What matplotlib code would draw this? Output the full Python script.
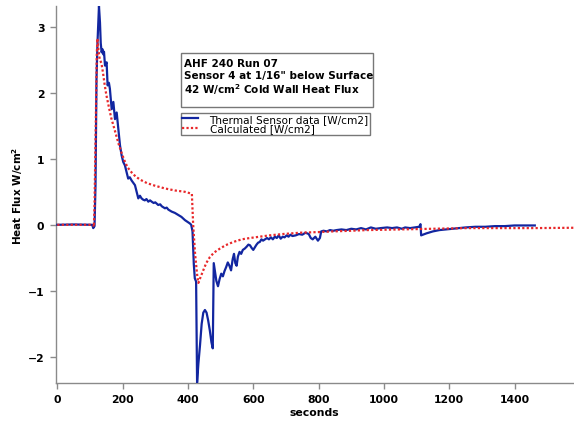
import matplotlib
matplotlib.use("Agg")
import matplotlib.pyplot as plt
from matplotlib.patches import Rectangle

# ---- data ----
sensor_t = [0, 50, 100, 107, 110, 114, 117, 120, 123, 126, 127.6, 130.7, 133, 135.8, 138, 140.9,
            143, 146, 151, 154, 158, 161, 166.5, 171.6, 176.6, 181.8, 186.8, 192, 197, 202,
            207, 212, 217, 222, 227.6, 232, 237.8, 243, 248, 253, 258, 263, 268, 273, 278.6,
            284, 289, 295, 300, 309, 315, 320, 329.6, 335, 340, 350, 360, 370, 380, 391,
            400, 406, 410, 414, 418, 421, 425, 428, 432, 437, 442, 447, 452, 457, 462,
            467, 472, 476, 479, 483, 487, 492, 497, 502, 507, 512, 517, 522, 527, 532,
            537, 541, 545, 549, 553, 558, 563, 568, 574, 580, 585, 590, 595, 600, 605,
            610, 615, 620, 625, 630, 636, 642, 648, 654, 660, 666, 672, 678, 684, 690,
            696, 702, 708, 714, 720, 730, 740, 750, 760, 770, 776, 782, 790, 798, 804,
            808, 815, 825, 835, 845, 855, 870, 885, 900, 915, 930, 945, 960, 975, 990,
            1010, 1025, 1040, 1055, 1065, 1080, 1095, 1108, 1112, 1114, 1130, 1150, 1170,
            1190, 1210, 1230, 1250, 1280, 1310, 1340, 1370, 1400, 1440, 1462]
sensor_q = [0.0, 0.005, 0.0, 0.0, -0.05, -0.02, 0.6, 2.2, 2.75, 3.1, 3.31, 3.06, 2.75, 2.61, 2.66, 2.58,
            2.62, 2.41, 2.46, 2.11, 2.15, 2.06, 1.75, 1.86, 1.6, 1.7, 1.45, 1.2, 1.05, 0.95,
            0.9, 0.8, 0.7, 0.72, 0.67, 0.64, 0.6, 0.5, 0.4, 0.44, 0.4, 0.38, 0.37, 0.39, 0.35,
            0.37, 0.35, 0.33, 0.34, 0.3, 0.31, 0.28, 0.25, 0.26, 0.23, 0.2, 0.18, 0.15, 0.12, 0.07,
            0.04, 0.02, 0.0, -0.1, -0.6, -0.81, -0.86, -2.39, -2.1, -1.82, -1.5, -1.33, -1.29, -1.33, -1.45,
            -1.6, -1.78, -1.87, -0.58, -0.72, -0.85, -0.93, -0.82, -0.74, -0.78, -0.7, -0.64, -0.57, -0.62, -0.69,
            -0.52, -0.44, -0.58, -0.62, -0.48, -0.41, -0.44, -0.38, -0.36, -0.33, -0.3, -0.31, -0.35, -0.38, -0.34,
            -0.3, -0.27, -0.26, -0.22, -0.24, -0.22, -0.2, -0.22, -0.19, -0.22, -0.18, -0.2, -0.16, -0.21, -0.18,
            -0.19, -0.16, -0.18, -0.15, -0.17, -0.16, -0.14, -0.15, -0.12, -0.14, -0.2, -0.22, -0.18, -0.24, -0.2,
            -0.1, -0.09, -0.1, -0.08, -0.09, -0.08, -0.07, -0.08, -0.06, -0.07, -0.05, -0.07, -0.04, -0.06, -0.05,
            -0.04, -0.05, -0.04, -0.06, -0.04, -0.05, -0.04, -0.03, 0.01, -0.16, -0.13, -0.1, -0.08,
            -0.07, -0.06, -0.05, -0.04, -0.03, -0.03, -0.02, -0.02, -0.01, -0.01, -0.01]

calc_t = [0, 110, 112, 114, 118, 121, 123, 126, 130, 135, 140, 145, 150, 158, 165, 172, 180, 188,
          196, 205, 215, 228, 240, 255, 275, 300, 330, 360, 390, 412, 416, 422, 428, 432, 438,
          446, 456, 467, 480, 498, 515, 529, 545, 565, 590, 620, 650, 690, 743, 800, 844, 900,
          948, 1000, 1049, 1150, 1254, 1350, 1456, 1580]
calc_q = [0.0, 0.0, -0.03, 0.3, 1.6, 2.6, 2.82, 2.65, 2.5, 2.45, 2.3, 2.12, 1.97, 1.78, 1.62, 1.5,
          1.36, 1.22, 1.1, 0.98, 0.87, 0.79, 0.73, 0.68, 0.63, 0.59, 0.55, 0.52, 0.5, 0.47, 0.0,
          -0.45, -0.75, -0.88, -0.8, -0.7, -0.58, -0.49, -0.42, -0.36, -0.31, -0.28, -0.25, -0.22,
          -0.2, -0.18, -0.16, -0.14, -0.12, -0.11, -0.1, -0.09, -0.08, -0.075, -0.07, -0.06,
          -0.05, -0.05, -0.05, -0.045]

x_ticks = [0, 200, 400, 600, 800, 1000, 1200, 1400]
y_ticks = [-2, -1, 0, 1, 2, 3]
series_labels = ["Thermal Sensor data [W/cm2]", "Calculated [W/cm2]"]
info_lines = ["AHF 240 Run 07", "Sensor 4 at 1/16\" below Surface",
              r"42 W/cm$^\mathbf{2}$ Cold Wall Heat Flux"]

W, H = 574, 427
fig = plt.figure(figsize=(W / 100, H / 100), dpi=100)
ax = fig.add_axes([55.5 / W, 1 - 384 / H, 1 - 55.5 / W, (384 - 6.5) / H])

blue = "#1226a0"
red = "#e8282a"
ax.plot(sensor_t, sensor_q, color=blue, lw=1.6, label=series_labels[0], zorder=3)
ax.plot(calc_t, calc_q, color=red, lw=1.6, ls=(0, (1, 1)), label=series_labels[1], zorder=4)

ax.set_xlim(-5.5, 1582)
ax.set_ylim(-2.395, 3.32)
ax.set_xticks(x_ticks)
ax.set_yticks(y_ticks)

for s in ["top", "right"]:
    ax.spines[s].set_visible(False)
for s in ["left", "bottom"]:
    ax.spines[s].set_color("#8a8a8a")
    ax.spines[s].set_linewidth(1.0)
ax.tick_params(direction="out", length=4, width=1, color="#8a8a8a",
               labelsize=7.8, pad=4)
for lab in ax.get_xticklabels() + ax.get_yticklabels():
    lab.set_fontweight("bold")

ax.set_xlabel("seconds", fontsize=7.8, fontweight="bold", labelpad=2)
fig.text(18 / W, 1 - 196 / H, r"Heat Flux W/cm$^\mathbf{2}$", rotation=90,
         fontsize=7.5, fontweight="bold", ha="center", va="center")

# info box
fig.patches.append(Rectangle((181 / W, 1 - 108 / H), (373 - 181) / W, (108 - 54) / H,
                             transform=fig.transFigure, fill=True, facecolor="white",
                             edgecolor="#777777", lw=1.0, zorder=5))
for line, yy in zip(info_lines, [64, 76.5, 90]):
    fig.text(183.5 / W, 1 - yy / H, line, fontsize=7.5, fontweight="bold",
             ha="left", va="center", zorder=6)

leg = ax.legend(loc="upper left", bbox_to_anchor=(181 / W, 1 - 114 / H),
                bbox_transform=fig.transFigure, fontsize=7.6, frameon=True,
                fancybox=False, framealpha=1, edgecolor="#777777",
                borderpad=0.1, handlelength=1.5, handletextpad=1.1,
                labelspacing=-0.05, borderaxespad=0)
leg.get_frame().set_linewidth(1.0)

fig.savefig("out.png", dpi=100)
